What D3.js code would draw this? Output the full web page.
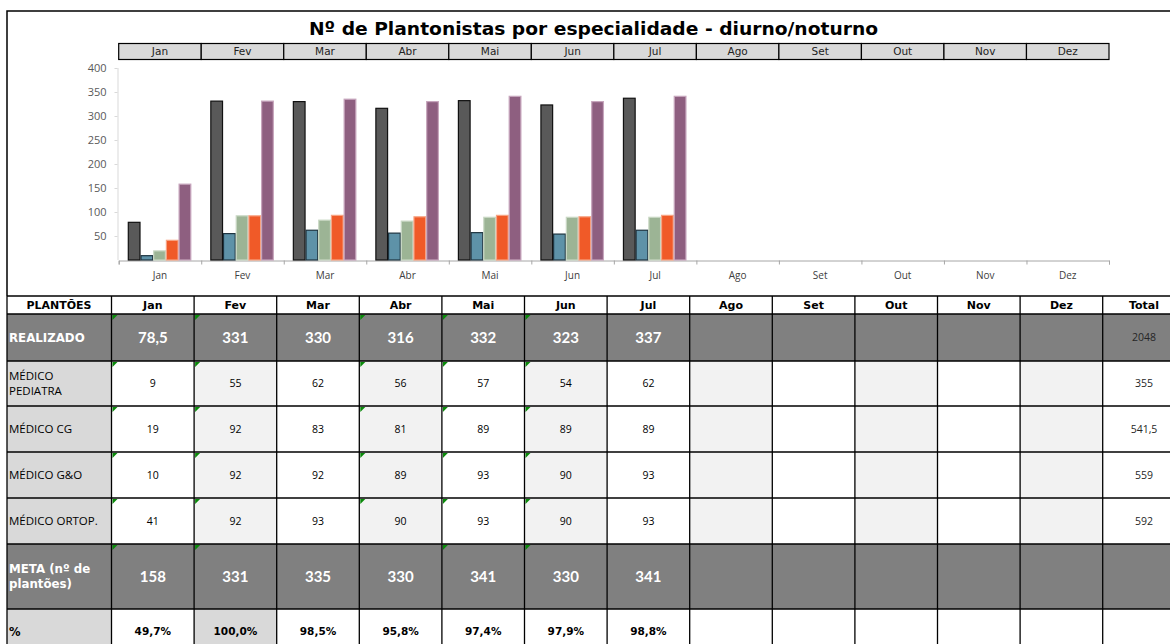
<!DOCTYPE html>
<html>
<head>
<meta charset="utf-8">
<script src="https://cdn.jsdelivr.net/npm/d3@7"></script>
<style>
body { margin: 0; background: #fff; }
svg { display: block; }
</style>
</head>
<body>
<div class="graph"></div>
<script>
var months = ['Jan', 'Fev', 'Mar', 'Abr', 'Mai', 'Jun', 'Jul', 'Ago', 'Set', 'Out', 'Nov', 'Dez'];
var realizado = [78.5, 331, 330, 316, 332, 323, 337];
var pediatra = [9, 55, 62, 56, 57, 54, 62];
var cg = [19, 92, 83, 81, 89, 89, 89];
var go = [10, 92, 92, 89, 93, 90, 93];
var ortop = [41, 92, 93, 90, 93, 90, 93];
var meta = [158, 331, 335, 330, 341, 330, 341];
var totals = [2048, 355, 541.5, 559, 592, null];
var yTicks = [50, 100, 150, 200, 250, 300, 350, 400];
var chartSeries = ['REALIZADO', 'MÉDICO PEDIATRA', 'MÉDICO CG', 'MÉDICO ORTOP.', 'META'];
// cells carrying the little green excel marker
var markedMonths = ['Jan', 'Fev', 'Abr', 'Mai', 'Jun'];
var markedMeta = ['Jan', 'Fev', 'Mai', 'Jun'];

(() => {
var width = 1170,
    height = 644;

var wide = "'DejaVu Sans', sans-serif";
var geo = "'Lato', 'DejaVu Sans', sans-serif";
var cal = "'Open Sans', 'Liberation Sans', sans-serif";

var svg = d3.select('div.graph')
    .append('svg')
        .attr('width', width)
        .attr('height', height);

var byKey = {
    'REALIZADO': realizado,
    'MÉDICO PEDIATRA': pediatra,
    'MÉDICO CG': cg,
    'MÉDICO G&O': go,
    'MÉDICO ORTOP.': ortop,
    'META': meta
};

var locale = d3.formatLocale({decimal: ',', thousands: '.', grouping: [3], currency: ['R$', '']});
var fmtNum = (v) => v == null ? '' : (Number.isInteger(v) ? String(v) : locale.format('.1f')(v));
var fmtPct = locale.format('.1%');

// ---- frame + title
svg.append('path')
    .attr('d', 'M7,296V11H1180')
    .attr('fill', 'none')
    .attr('stroke', '#000')
    .attr('stroke-width', 1.5);

svg.append('text')
    .attr('x', 309)
    .attr('y', 35)
    .attr('textLength', 569)
    .attr('lengthAdjust', 'spacingAndGlyphs')
    .style('font-family', wide)
    .style('font-weight', 'bold')
    .style('font-size', '18px')
    .text('Nº de Plantonistas por especialidade - diurno/noturno');

// ---- chart
var x = d3.scaleBand()
    .domain(months)
    .range([118.7, 1109]);

var x1 = d3.scaleBand()
    .domain(chartSeries)
    .range([9.6, 73.1]);

var y = d3.scaleLinear()
    .domain([0, 400])
    .range([260, 68]);

var fill = d3.scaleOrdinal()
    .domain(chartSeries)
    .range(['#595959', '#5e92a8', '#9cb495', '#f05a28', '#8e5f80']);
var edge = d3.scaleOrdinal()
    .domain(chartSeries)
    .range(['#111', '#1e3440', '#c9d8c4', '#f7a383', '#c7a6bd']);

// month strip on top
var strip = svg.append('g');
strip.selectAll('rect')
    .data(months)
    .enter()
    .append('rect')
        .attr('x', (d) => x(d))
        .attr('y', 43.5)
        .attr('width', x.bandwidth())
        .attr('height', 16)
        .attr('fill', '#d9d9d9')
        .attr('stroke', '#000')
        .attr('stroke-width', 1.2);
strip.selectAll('text')
    .data(months)
    .enter()
    .append('text')
        .attr('x', (d) => x(d) + x.bandwidth() / 2)
        .attr('y', 55)
        .attr('text-anchor', 'middle')
        .attr('fill', '#222')
        .style('font-family', wide)
        .style('font-size', '10.5px')
        .text((d) => d);

var yAxis = svg.append('g')
    .attr('transform', 'translate(117.5,0)')
    .call(d3.axisLeft(y).tickValues(yTicks).tickSize(3).tickPadding(8));
yAxis.select('.domain').attr('stroke', '#d9d9d9').attr('d', 'M0.5,' + y(400) + 'V' + y(0));
yAxis.selectAll('.tick line').attr('stroke', '#d9d9d9');
yAxis.selectAll('text')
    .attr('fill', '#595959')
    .style('font-family', cal)
    .style('font-size', '11px');

var edges = d3.scaleLinear().domain([0, 12]).range(x.range());
var xTicks = svg.append('g')
    .attr('transform', 'translate(0,260.5)')
    .call(d3.axisBottom(edges).ticks(12).tickSize(4).tickFormat(''));
xTicks.select('.domain').attr('stroke', '#a6a6a6');
xTicks.selectAll('.tick line').attr('stroke', '#a6a6a6');

var xLabels = svg.append('g')
    .attr('transform', 'translate(0,260.5)')
    .call(d3.axisBottom(x).tickSize(0).tickPadding(11));
xLabels.select('.domain').remove();
xLabels.selectAll('text')
    .attr('fill', '#404040')
    .style('font-family', cal)
    .style('font-size', '10px');

var barData = [];
months.forEach((m, i) => {
    chartSeries.forEach((k) => {
        var v = byKey[k][i];
        if (v != null) barData.push({month: m, key: k, value: v});
    });
});

svg.append('g')
    .selectAll('rect')
    .data(barData)
    .enter()
    .append('rect')
        .attr('x', (d) => x(d.month) + x1(d.key))
        .attr('y', (d) => y(d.value))
        .attr('width', x1.bandwidth() - 1)
        .attr('height', (d) => y(0) - y(d.value))
        .attr('fill', (d) => fill(d.key))
        .attr('stroke', (d) => edge(d.key))
        .attr('stroke-width', 1.2);

// ---- table
var cols = months.concat(['Total']);
var tx = d3.scaleBand()
    .domain(cols)
    .range([111.5, 111.5 + 13 * 82.6]);

var rowHeights = [18, 47, 45, 46, 46, 46, 65, 45];
var rowY = [296];
rowHeights.forEach((h, i) => rowY.push(rowY[i] + h));

var rows = [
    {kind: 'head', label: 'PLANTÕES'},
    {kind: 'dark', label: 'REALIZADO', key: 'REALIZADO', total: totals[0]},
    {kind: 'plain', label: 'MÉDICO PEDIATRA', key: 'MÉDICO PEDIATRA', total: totals[1]},
    {kind: 'plain', label: 'MÉDICO CG', key: 'MÉDICO CG', total: totals[2]},
    {kind: 'plain', label: 'MÉDICO G&O', key: 'MÉDICO G&O', total: totals[3]},
    {kind: 'plain', label: 'MÉDICO ORTOP.', key: 'MÉDICO ORTOP.', total: totals[4]},
    {kind: 'dark', label: 'META (nº de plantões)', key: 'META', total: totals[5]},
    {kind: 'pct', label: '%'}
];
var labelLines = {
    'MÉDICO PEDIATRA': ['MÉDICO', 'PEDIATRA'],
    'META (nº de plantões)': ['META (nº de', 'plantões)']
};

var table = svg.append('g');

rows.forEach((r, ri) => {
    var y0 = rowY[ri], h = rowHeights[ri], cy = y0 + h / 2;
    var g = table.append('g');

    // label cell
    var labelFill = r.kind == 'head' ? '#fff' : (r.kind == 'dark' ? '#808080' : '#d9d9d9');
    g.append('rect')
        .attr('x', 7).attr('y', y0)
        .attr('width', tx.range()[0] - 7).attr('height', h)
        .attr('fill', labelFill);

    cols.forEach((c, ci) => {
        var cf;
        if (r.kind == 'head') cf = '#fff';
        else if (r.kind == 'dark') cf = '#808080';
        else if (r.kind == 'pct') cf = c == 'Fev' ? '#d9d9d9' : '#fff';
        else cf = (c != 'Total' && ci % 2 == 1) ? '#f2f2f2' : '#fff';
        g.append('rect')
            .attr('x', tx(c)).attr('y', y0)
            .attr('width', tx.bandwidth()).attr('height', h)
            .attr('fill', cf);
    });

    // label text
    if (r.kind == 'head') {
        g.append('text')
            .attr('x', 59).attr('y', cy + 4)
            .attr('text-anchor', 'middle')
            .style('font-family', wide).style('font-weight', 'bold').style('font-size', '11px')
            .text(r.label);
    } else {
        var lines = labelLines[r.label] || [r.label];
        var dark = r.kind == 'dark';
        lines.forEach((t, li) => {
            g.append('text')
                .attr('x', 9)
                .attr('y', cy + 4 + (li - (lines.length - 1) / 2) * 15)
                .attr('fill', dark ? '#fff' : '#000')
                .style('font-family', dark || r.kind == 'pct' ? wide : cal)
                .style('font-weight', dark || r.kind == 'pct' ? 'bold' : 'normal')
                .style('font-size', dark ? '11.8px' : '11.5px')
                .text(t);
        });
    }

    // values
    cols.forEach((c, ci) => {
        var txt = '', style = {};
        if (r.kind == 'head') {
            txt = c;
            style = {ff: wide, fw: 'bold', fs: '11px', col: '#000'};
        } else if (r.kind == 'pct') {
            if (ci < realizado.length) txt = fmtPct(realizado[ci] / meta[ci]);
            style = {ff: wide, fw: 'bold', fs: '10.5px', col: '#000'};
        } else if (c == 'Total') {
            txt = fmtNum(r.total);
            style = {ff: cal, fw: 'normal', fs: '10.5px', col: '#262626'};
        } else {
            txt = fmtNum(byKey[r.key][ci]);
            style = r.kind == 'dark'
                ? {ff: geo, fw: 'bold', fs: '15px', col: '#fff'}
                : {ff: cal, fw: 'normal', fs: '10.5px', col: '#000'};
        }
        if (txt !== '') {
            g.append('text')
                .attr('x', tx(c) + tx.bandwidth() / 2)
                .attr('y', cy + (parseFloat(style.fs) * 0.36))
                .attr('text-anchor', 'middle')
                .attr('fill', style.col)
                .style('font-family', style.ff)
                .style('font-weight', style.fw)
                .style('font-size', style.fs)
                .text(txt);
        }
    });

    // green markers
    if (r.kind == 'dark' || r.kind == 'plain') {
        var marks = r.key == 'META' ? markedMeta : markedMonths;
        marks.forEach((m) => {
            var mx = tx(m) + 1, my = y0 + 1;
            g.append('path')
                .attr('d', 'M' + mx + ',' + my + 'h5l-5,5z')
                .attr('fill', '#0a8a0a');
        });
    }
});

// grid lines
var gridX = [7].concat(cols.map((c) => tx(c)));
table.selectAll('line.v')
    .data(gridX)
    .enter()
    .append('line')
        .attr('class', 'v')
        .attr('x1', (d) => d).attr('x2', (d) => d)
        .attr('y1', rowY[0]).attr('y2', height)
        .attr('stroke', '#000')
        .attr('stroke-width', 1.3);
table.selectAll('line.h')
    .data(rowY.slice(0, rowY.length - 1))
    .enter()
    .append('line')
        .attr('class', 'h')
        .attr('x1', 7).attr('x2', width)
        .attr('y1', (d) => d).attr('y2', (d) => d)
        .attr('stroke', '#000')
        .attr('stroke-width', 1.3);
})();
</script>
</body>
</html>
